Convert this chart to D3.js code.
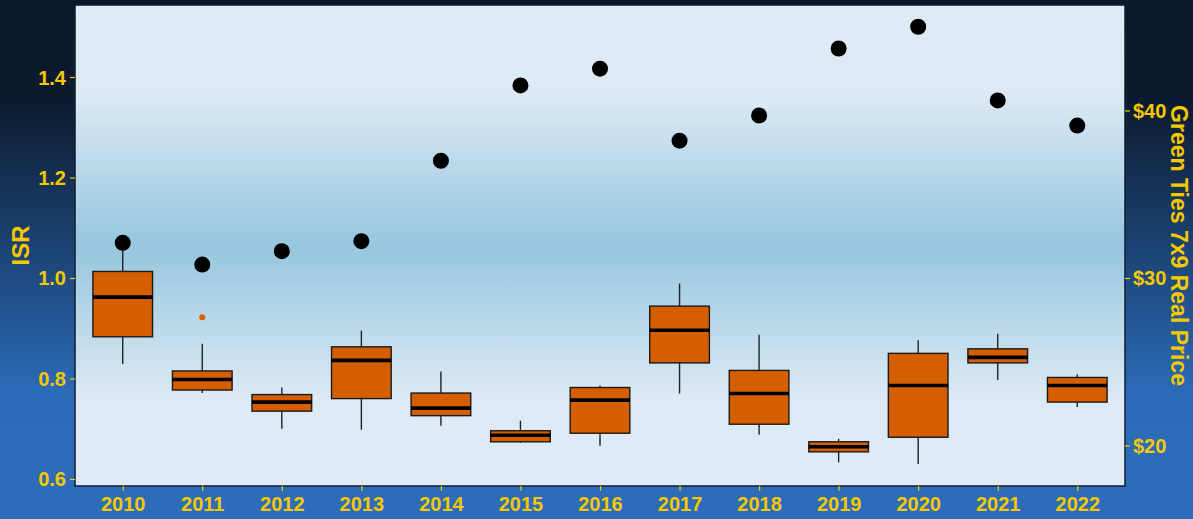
<!DOCTYPE html>
<meta charset="utf-8">
<style>
body { margin: 0; background: #0c1a2e; }
text { font-family: "Liberation Sans", Arial, sans-serif; font-weight: bold; }
.axis text { fill: #f5c800; font-size: 20px; }
.axis line { stroke: #f5c800; stroke-width: 1.2px; }
.axis path { display: none; }
</style>
<body>
<script src="https://d3js.org/d3.v7.min.js"></script>
<script>

// box statistics per year (ISR)
var years    = ["2010","2011","2012","2013","2014","2015","2016","2017","2018","2019","2020","2021","2022"];
var whiskLo  = [0.829, 0.771, 0.700, 0.698, 0.706, 0.672, 0.666, 0.770, 0.688, 0.633, 0.630, 0.797, 0.743];
var q1       = [0.883, 0.777, 0.735, 0.760, 0.726, 0.674, 0.691, 0.831, 0.709, 0.654, 0.683, 0.831, 0.753];
var median   = [0.962, 0.798, 0.753, 0.836, 0.741, 0.687, 0.757, 0.896, 0.770, 0.664, 0.786, 0.842, 0.786];
var q3       = [1.013, 0.815, 0.768, 0.863, 0.771, 0.696, 0.782, 0.944, 0.816, 0.674, 0.850, 0.859, 0.802];
var whiskHi  = [1.056, 0.869, 0.782, 0.895, 0.814, 0.716, 0.786, 0.989, 0.887, 0.680, 0.876, 0.889, 0.808];
var outliers = [{year: "2011", value: 0.922}];

// Green Ties 7x9 real price (secondary axis)
var price    = [32.1, 30.8, 31.6, 32.2, 37.0, 41.5, 42.5, 38.2, 39.7, 43.7, 45.0, 40.6, 39.1];

var isrTicks   = [0.6, 0.8, 1.0, 1.2, 1.4];
var priceTicks = [20, 30, 40];
var priceFactor = 30; // price = ISR * 30

var W = 1193, H = 519;
var panel = {left: 75, right: 1125, top: 5, bottom: 486};

var svg = d3.select("body").append("svg")
    .attr("width", W)
    .attr("height", H);

var defs = svg.append("defs");

// outer background gradient
var bg = defs.append("linearGradient")
    .attr("id", "bg").attr("x1", 0).attr("y1", 0).attr("x2", 0).attr("y2", 1);
bg.append("stop").attr("offset", 0).attr("stop-color", "#0b192d");
bg.append("stop").attr("offset", 0.19).attr("stop-color", "#0c1a2e");
bg.append("stop").attr("offset", 0.76).attr("stop-color", "#2b6bb8");
bg.append("stop").attr("offset", 1).attr("stop-color", "#2c6cb9");

// panel gradient (light - blue band - light)
var pg = defs.append("linearGradient")
    .attr("id", "pg").attr("x1", 0).attr("y1", 0).attr("x2", 0).attr("y2", 1);
pg.append("stop").attr("offset", 0).attr("stop-color", "#deeaf5");
pg.append("stop").attr("offset", 0.18).attr("stop-color", "#ddeaf5");
pg.append("stop").attr("offset", 0.5).attr("stop-color", "#96c6de");
pg.append("stop").attr("offset", 0.82).attr("stop-color", "#ddeaf5");
pg.append("stop").attr("offset", 1).attr("stop-color", "#deeaf5");

svg.append("rect")
    .attr("width", W).attr("height", H)
    .attr("fill", "url(#bg)");

svg.append("rect")
    .attr("x", panel.left).attr("y", panel.top)
    .attr("width", panel.right - panel.left)
    .attr("height", panel.bottom - panel.top)
    .attr("fill", "url(#pg)");

// scales
var x = d3.scalePoint()
    .domain(years)
    .range([panel.left, panel.right])
    .padding(0.6);

var y = d3.scaleLinear()
    .domain([0.586, 1.5433])
    .range([panel.bottom, panel.top]);

var y2 = d3.scaleLinear()
    .domain(y.domain().map(function(d) { return d * priceFactor; }))
    .range([panel.bottom, panel.top]);

var boxW = x.step() * 0.75;

var data = years.map(function(yr, i) {
  return {year: yr, lo: whiskLo[i], q1: q1[i], med: median[i], q3: q3[i], hi: whiskHi[i], price: price[i]};
});

var g = svg.append("g");

// whiskers
g.selectAll(".whisk")
    .data(data)
  .enter().append("line")
    .attr("x1", function(d) { return x(d.year); })
    .attr("x2", function(d) { return x(d.year); })
    .attr("y1", function(d) { return y(d.lo); })
    .attr("y2", function(d) { return y(d.hi); })
    .attr("stroke", "#222")
    .attr("stroke-width", 1.4);

// boxes
g.selectAll(".box")
    .data(data)
  .enter().append("rect")
    .attr("x", function(d) { return x(d.year) - boxW / 2; })
    .attr("width", boxW)
    .attr("y", function(d) { return y(d.q3); })
    .attr("height", function(d) { return y(d.q1) - y(d.q3); })
    .attr("fill", "#d55e00")
    .attr("stroke", "#1a1a1a")
    .attr("stroke-width", 1.4);

// medians
g.selectAll(".med")
    .data(data)
  .enter().append("line")
    .attr("x1", function(d) { return x(d.year) - boxW / 2; })
    .attr("x2", function(d) { return x(d.year) + boxW / 2; })
    .attr("y1", function(d) { return y(d.med); })
    .attr("y2", function(d) { return y(d.med); })
    .attr("stroke", "#000")
    .attr("stroke-width", 3.6);

// outliers
g.selectAll(".out")
    .data(outliers)
  .enter().append("circle")
    .attr("cx", function(d) { return x(d.year); })
    .attr("cy", function(d) { return y(d.value); })
    .attr("r", 3)
    .attr("fill", "#d55e00");

// price points
g.selectAll(".price")
    .data(data)
  .enter().append("circle")
    .attr("cx", function(d) { return x(d.year); })
    .attr("cy", function(d) { return y2(d.price); })
    .attr("r", 8)
    .attr("fill", "#000");

// panel border
svg.append("rect")
    .attr("x", panel.left).attr("y", panel.top)
    .attr("width", panel.right - panel.left)
    .attr("height", panel.bottom - panel.top)
    .attr("fill", "none")
    .attr("stroke", "#0e1c30")
    .attr("stroke-width", 1.5);

// axes
svg.append("g")
    .attr("class", "axis")
    .attr("transform", "translate(" + panel.left + ",0)")
    .call(d3.axisLeft(y).tickValues(isrTicks).tickFormat(d3.format(".1f")).tickSize(5).tickPadding(4))
    .selectAll("text").attr("dy", "0.35em");

svg.append("g")
    .attr("class", "axis")
    .attr("transform", "translate(" + panel.right + ",0)")
    .call(d3.axisRight(y2).tickValues(priceTicks).tickFormat(function(d) { return "$" + d; }).tickSize(5).tickPadding(3))
    .selectAll("text").attr("dy", "0.35em");

svg.append("g")
    .attr("class", "axis")
    .attr("transform", "translate(0," + panel.bottom + ")")
    .call(d3.axisBottom(x).tickSize(5).tickPadding(4))
    .selectAll("text").attr("dy", "0.8em");

// axis titles
var midY = (panel.top + panel.bottom) / 2;
svg.append("text")
    .attr("transform", "translate(29," + midY + ") rotate(-90)")
    .attr("text-anchor", "middle")
    .attr("fill", "#f5c800")
    .style("font-size", "24px")
    .text("ISR");

svg.append("text")
    .attr("transform", "translate(1171," + midY + ") rotate(90)")
    .attr("text-anchor", "middle")
    .attr("fill", "#f5c800")
    .style("font-size", "23px")
    .text("Green Ties 7x9 Real Price");

</script>
</body>
